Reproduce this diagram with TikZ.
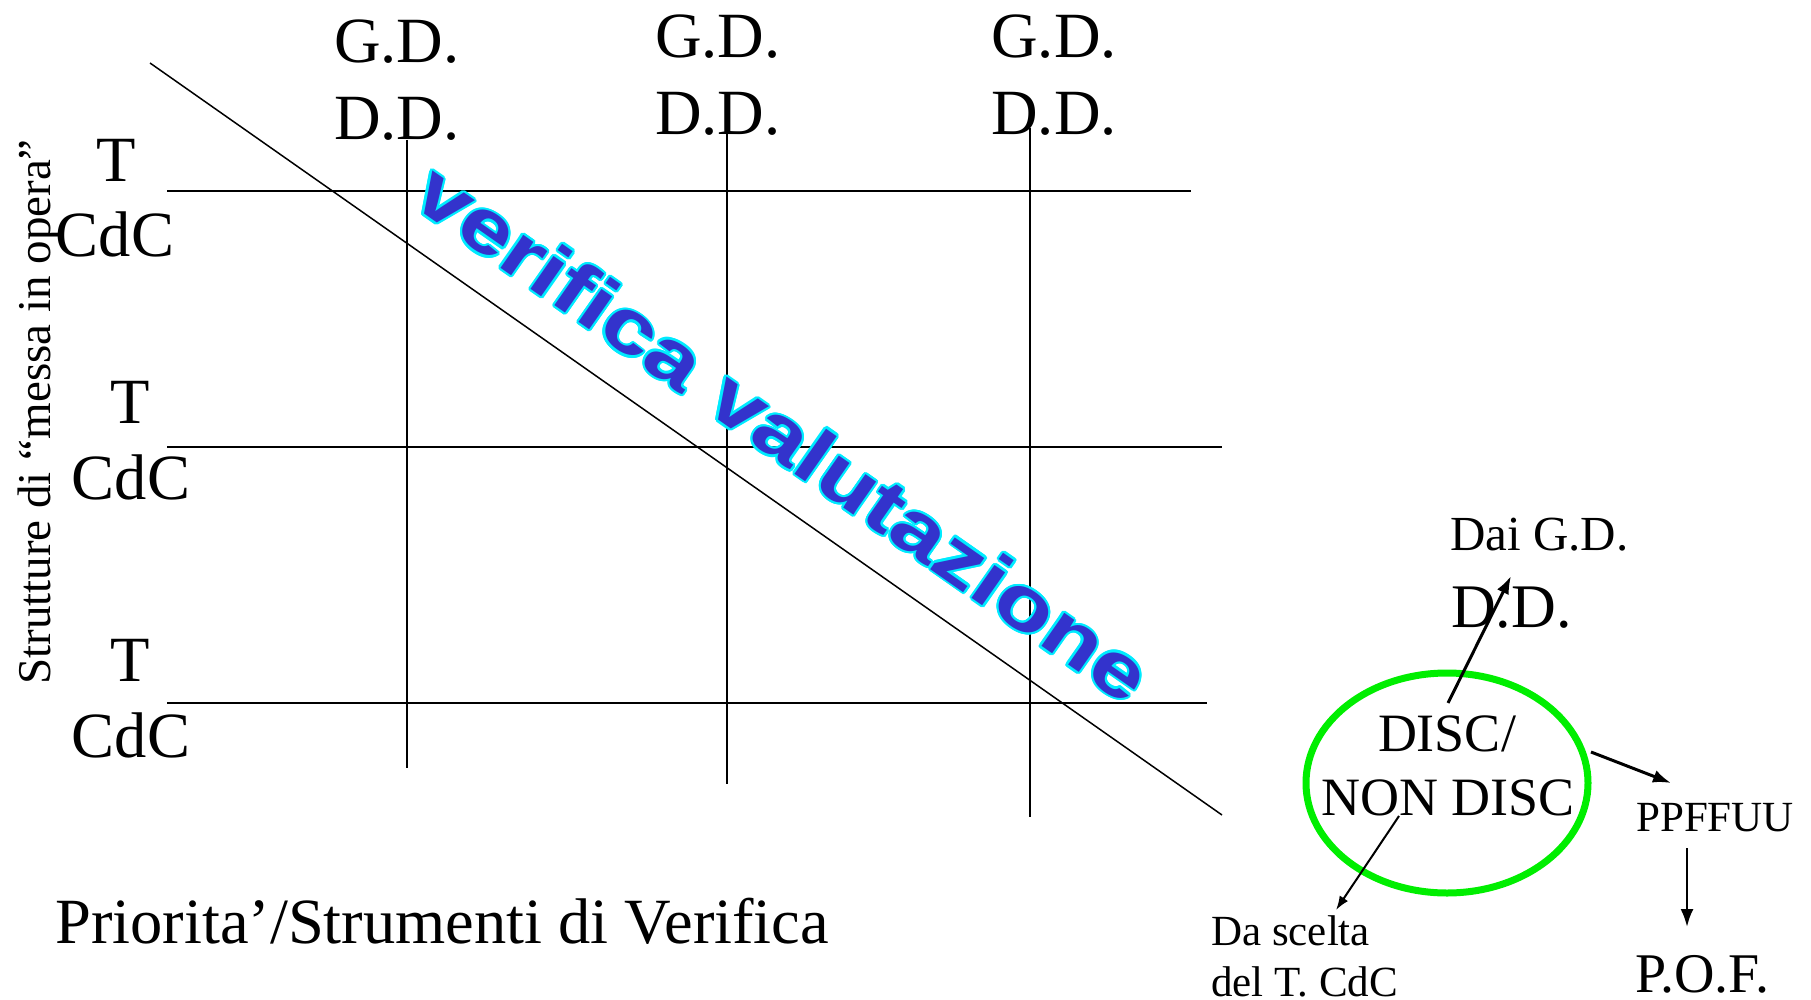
\documentclass[tikz,border=0pt]{standalone}
\usepackage{fontspec}
\setmainfont{Liberation Serif}
\newfontfamily\wafont{Liberation Sans}
\usepackage{graphicx}
\usetikzlibrary{arrows.meta}
\definecolor{wablue}{RGB}{51,51,204}
\definecolor{waline}{RGB}{0,235,255}
\definecolor{ringgreen}{RGB}{0,238,0}
\begin{document}
\begin{tikzpicture}[x=1pt,y=-1pt,
  big/.style={inner sep=0pt, anchor=base, font=\fontsize{64.5}{70}\selectfont},
  mid/.style={inner sep=0pt, anchor=base, font=\fontsize{54}{60}\selectfont},
  small/.style={inner sep=0pt, anchor=base west, font=\fontsize{43}{48}\selectfont},
  gridline/.style={line width=1.5pt, black},
  arr/.style={line width=3pt, -{Latex[length=18pt,width=13pt]}},
  thinarr/.style={line width=2pt, -{Latex[length=14pt,width=10pt]}},
  ring/.style={draw=ringgreen, line width=7pt},
  wa/.style={inner sep=0pt, anchor=base, rotate=-35, font=\fontsize{76}{80}\selectfont\wafont\bfseries}
]
\useasboundingbox (0,0) rectangle (1811,1000);

% grid
\draw[gridline] (167,191) -- (1191,191);
\draw[gridline] (167,447) -- (1222,447);
\draw[gridline] (167,703) -- (1207,703);
\draw[gridline] (407,140) -- (407,768);
\draw[gridline] (727,133) -- (727,784);
\draw[gridline] (1030,128) -- (1030,817);
\draw[gridline] (150,63) -- (1222,815);

% column headers
\node[big] (gd1) at (397,63) {G.D.};
\node[big] (dd1) at (397,140) {D.D.};
\node[big] (gd2) at (718,58) {G.D.};
\node[big] (dd2) at (718,135) {D.D.};
\node[big] (gd3) at (1054,58) {G.D.};
\node[big] (dd3) at (1054,135) {D.D.};

% row headers
\node[big] (t1) at (116,182) {T};
\node[big] (c1) at (115,257) {CdC};
\node[big] (t2) at (130,423) {T};
\node[big] (c2) at (131,499) {CdC};
\node[big] (t3) at (130,681) {T};
\node[big] (c3) at (131,757) {CdC};

\node[inner sep=0pt, anchor=base, rotate=90, font=\fontsize{47}{52}\selectfont] (side) at (50,412) {Strutture di “messa in opera”};
\node[big, anchor=base west] (prio) at (55,943) {Priorita’/Strumenti di Verifica};

% word art
\foreach \a in {0,22.5,...,337.5}{
  \node[wa, text=waline, shift={(\a:2.2pt)}] at (768,455) {\scalebox{1.25}[1]{verifica valutazione}};
}
\node[wa, text=wablue] (wart) at (768,455) {\scalebox{1.25}[1]{verifica valutazione}};

% right part
\draw[ring] (1447,783) ellipse [x radius=141, y radius=110];
\node[mid] (disc) at (1447,751) {DISC/};
\node[mid] (nondisc) at (1448,815) {NON DISC};
\node[inner sep=0pt, anchor=base west, font=\fontsize{49}{54}\selectfont] (dai) at (1450,550) {Dai G.D.};
\node[inner sep=0pt, anchor=base west, font=\fontsize{62}{66}\selectfont] (daidd) at (1451,627) {D.D.};
\node[inner sep=0pt, anchor=base west, font=\fontsize{43}{48}\selectfont] (ppf) at (1636,831) {PPFFUU};
\node[inner sep=0pt, anchor=base west, font=\fontsize{56}{60}\selectfont] (pof) at (1635,992) {P.O.F.};
\node[small] (da1) at (1211,945) {Da scelta};
\node[small] (da2) at (1211,996) {del T. CdC};

\coordinate (a1s) at (1448,703);
\coordinate (a1e) at (1511,576);
\coordinate (a2s) at (1591,752);
\coordinate (a2e) at (1671,783);
\coordinate (a3s) at (1687,848);
\coordinate (a3e) at (1687,927);
\coordinate (a4s) at (1399,816);
\coordinate (a4e) at (1336,910);
\draw[arr] (a1s) -- (a1e);
\draw[arr] (a2s) -- (a2e);
\draw[arr, line width=2.5pt] (a3s) -- (a3e);
\draw[thinarr] (a4s) -- (a4e);
\end{tikzpicture}
\end{document}
